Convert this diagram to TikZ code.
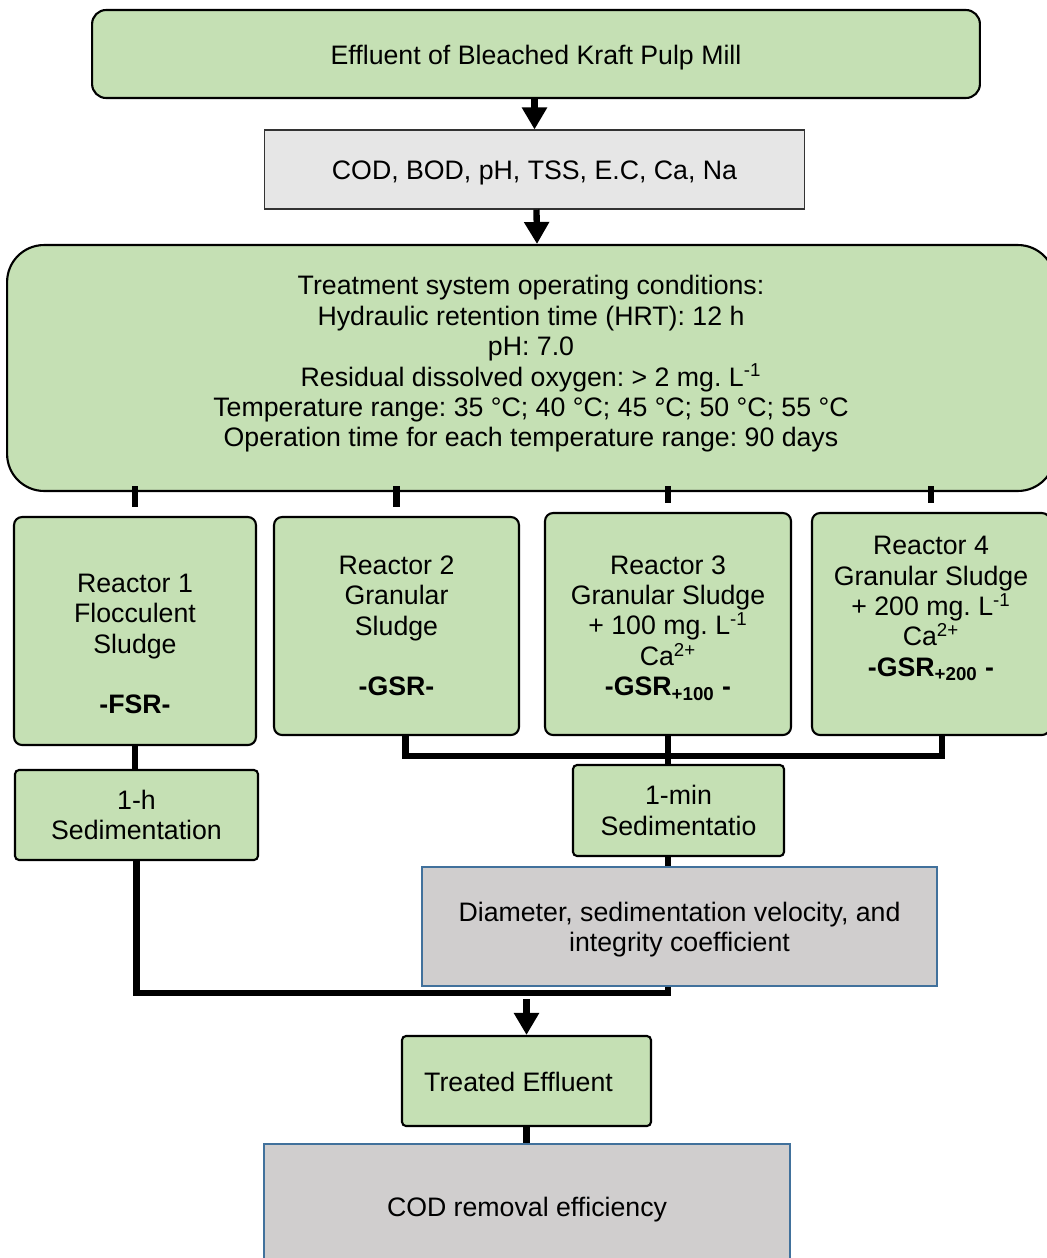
\documentclass[tikz,border=0pt]{standalone}
\usepackage{fontspec}
\setmainfont{Liberation Sans}
\frenchspacing
\usetikzlibrary{arrows.meta,calc}
\definecolor{boxgreen}{HTML}{C5E0B4}
\definecolor{boxgray}{HTML}{E6E6E6}
\definecolor{resgray}{HTML}{D0CECE}
\definecolor{resedge}{HTML}{41719C}
\tikzset{
  box/.style={draw=black, line width=1.2pt, fill=boxgreen, align=center,
    inner sep=0pt, rounded corners=0.16cm},
  bigbox/.style={box, rounded corners=0.74cm},
  oneline/.style={text height=15pt, text depth=3.5pt},
  measure/.style={draw=black!80, line width=0.6pt, fill=boxgray, align=center, inner sep=0pt},
  result/.style={draw=resedge, line width=0.8pt, fill=resgray, align=center, inner sep=0pt},
  link/.style={line width=3.6pt},
  flow/.style={link, -{Triangle[width=0.48cm,length=0.44cm]}}
}
\begin{document}
\begin{tikzpicture}[x=0.02cm, y=-0.02cm,
    font=\fontsize{15.2}{17.3}\selectfont]
  \clip (0,0) rectangle (1047,1258);
  \fill[white] (0,0) rectangle (1047,1258);

  % input
  \node[box, oneline, rounded corners=0.28cm, minimum width=17.76cm, minimum height=1.76cm] (eff) at (536,54)
    {Effluent of Bleached Kraft Pulp Mill};
  \node[measure, oneline, minimum width=10.82cm, minimum height=1.58cm] (cod) at (534.5,169.5)
    {COD, BOD, pH, TSS, E.C, Ca, Na};
  \node[bigbox, minimum width=20.96cm, minimum height=4.92cm] (treat) at (531,368)
    {Treatment system operating conditions:\\
     Hydraulic retention time (HRT): 12 h\\
     pH: 7.0\\
     Residual dissolved oxygen: > 2 mg. L\textsuperscript{-1}\\
     Temperature range: 35 °C; 40 °C; 45 °C; 50 °C; 55 °C\\
     Operation time for each temperature range: 90 days\\[-9.5pt]\mbox{}};

  % reactors
  \node[box, minimum width=4.84cm, minimum height=4.56cm] (r1) at (135,631)
    {\mbox{}\\[8pt]Reactor 1\\Flocculent\\Sludge\\\mbox{}\\\textbf{-FSR-}};
  \node[box, minimum width=4.9cm, minimum height=4.36cm] (r2) at (396.5,626)
    {Reactor 2\\Granular\\Sludge\\\mbox{}\\\textbf{-GSR-}};
  \node[box, minimum width=4.92cm, minimum height=4.44cm] (r3) at (668,624)
    {\mbox{}\\[-2.3pt]Reactor 3\\Granular Sludge\\+ 100 mg. L\textsuperscript{-1}\\Ca\textsuperscript{2+}\\
     \textbf{-GSR\textsubscript{+100} -}};
  \node[box, minimum width=4.76cm, minimum height=4.44cm] (r4) at (931,624)
    {Reactor 4\\Granular Sludge\\+ 200 mg. L\textsuperscript{-1}\\Ca\textsuperscript{2+}\\
     \textbf{-GSR\textsubscript{+200} -}\\[2.8pt]\mbox{}};

  % sedimentation
  \node[box, rounded corners=0.08cm, minimum width=4.86cm, minimum height=1.8cm] (h1) at (136.5,815)
    {1-h\\Sedimentation};
  \node[box, rounded corners=0.08cm, minimum width=4.22cm, minimum height=1.82cm] (m1) at (678.5,810.5)
    {1-min\\Sedimentatio};
  \node[result, minimum width=10.3cm, minimum height=2.38cm] (diam) at (679.5,926.5)
    {\mbox{}\\[-2.9pt]Diameter, sedimentation velocity, and\\integrity coefficient};

  % output
  \node[box, oneline, rounded corners=0.08cm, minimum width=4.98cm, minimum height=1.8cm] (tr) at (526.5,1081)
    {Treated Effluent\hspace{0.32cm}};
  \node[result, oneline, minimum width=10.52cm, minimum height=2.48cm] (rem) at (527,1206)
    {COD removal efficiency};

  \coordinate (join) at (0,993);

  \draw[flow] (eff.south -| cod.north) -- (cod.north);
  \draw[flow] ($(cod.south)+(2,0)$) -- ($(treat.north)+(6,0)$);
  \foreach \r in {r1,r2,r3,r4}
    \draw[link] ($(\r.north |- treat.south)+(0,-6)$) -- ($(\r.north)+(0,-9)$);
  \draw[link] (r1.south) -- (r1.south |- h1.north);
  \draw[link] ($(r2.south)+(9,0)$) |- ($(r4.south)+(11,20)$) -- ($(r4.south)+(11,0)$);
  \draw[link] (r3.south) -- (r3.south |- m1.north);
  \draw[link] (r3.south |- m1.south) -- (r3.south |- diam.north);
  \draw[link] (h1.south) |- (r3.south |- join) -- (r3.south |- diam.south);
  \draw[flow] ($(tr.north |- join)+(0,6)$) -- (tr.north);
  \draw[link] (tr.south) -- (tr.south |- rem.north);
\end{tikzpicture}
\end{document}
